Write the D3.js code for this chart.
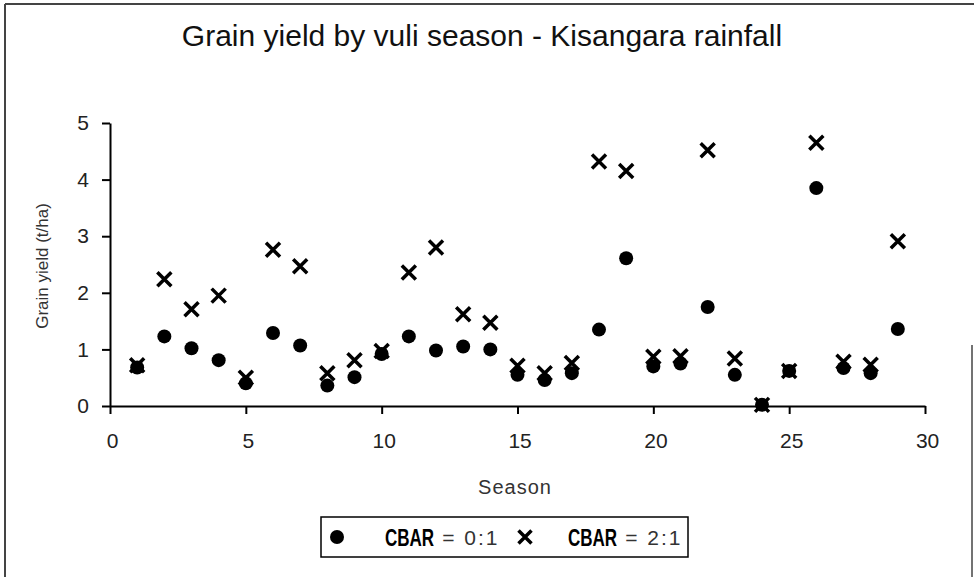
<!DOCTYPE html>
<html lang="en">
  <head>
    <meta charset="UTF-8" />
    <title>Grain yield by vuli season - Kisangara rainfall</title>
    <script src="https://d3js.org/d3.v7.min.js"></script>
    <style>
      body {
        margin: 0;
        background: #fff;
      }
      svg {
        display: block;
        font-family: "Liberation Sans", Arial, sans-serif;
      }
      .axis path,
      .axis line {
        stroke: #000;
        stroke-width: 2px;
      }
    </style>
  </head>
  <body>
    <svg id="chart" width="974" height="577"></svg>

    <script>
      const seasons = [
        1, 2, 3, 4, 5, 6, 7, 8, 9, 10, 11, 12, 13, 14, 15, 16, 17, 18, 19, 20,
        21, 22, 23, 24, 25, 26, 27, 28, 29,
      ];
      // CBAR = 0:1 (circles)
      const yield01 = [
        0.68, 1.23, 1.02, 0.81, 0.4, 1.29, 1.07, 0.36, 0.51, 0.92, 1.23, 0.98,
        1.05, 1.0, 0.55, 0.46, 0.58, 1.35, 2.61, 0.7, 0.75, 1.75, 0.55, 0.02,
        0.62, 3.85, 0.67, 0.58, 1.36,
      ];
      // CBAR = 2:1 (crosses)
      const yield21 = [
        0.72, 2.24, 1.71, 1.95, 0.5, 2.76, 2.47, 0.58, 0.81, 0.97, 2.36, 2.8,
        1.62, 1.47, 0.71, 0.58, 0.76, 4.32, 4.15, 0.87, 0.88, 4.52, 0.84, 0.02,
        0.62, 4.65, 0.78, 0.73, 2.91,
      ];
      const xTicks = [0, 5, 10, 15, 20, 25, 30];
      const yTicks = [0, 1, 2, 3, 4, 5];

      const svg = d3.select("#chart");

      // outer frame
      svg.append("line").attr("x1", 5).attr("y1", 4).attr("x2", 974).attr("y2", 4)
        .attr("stroke", "#444").attr("stroke-width", 2);
      svg.append("line").attr("x1", 5).attr("y1", 4).attr("x2", 5).attr("y2", 577)
        .attr("stroke", "#444").attr("stroke-width", 2);
      svg.append("line").attr("x1", 972).attr("y1", 345).attr("x2", 972).attr("y2", 577)
        .attr("stroke", "#444").attr("stroke-width", 1.5);

      const x = d3.scaleLinear().domain([0, 30]).range([110, 925]);
      const y = d3.scaleLinear().domain([0, 5]).range([406, 123]);

      svg
        .append("g")
        .attr("class", "axis")
        .attr("transform", "translate(0,406)")
        .call(
          d3.axisBottom(x).tickValues(xTicks).tickFormat(d3.format("d"))
            .tickSize(8).tickSizeOuter(0).tickPadding(19)
        )
        .call((g) =>
          g.selectAll("text").attr("font-size", 21).attr("fill", "#222").attr("dx", "0.1em")
        );

      svg
        .append("g")
        .attr("class", "axis")
        .attr("transform", "translate(110,0)")
        .call(
          d3.axisLeft(y).tickValues(yTicks).tickFormat(d3.format("d"))
            .tickSize(8).tickSizeOuter(0).tickPadding(13)
        )
        .call((g) => g.selectAll("text").attr("font-size", 21).attr("fill", "#222"));

      // title and axis labels
      svg
        .append("text")
        .attr("x", 482)
        .attr("y", 46)
        .attr("text-anchor", "middle")
        .style("font-size", "30px")
        .style("fill", "#111")
        .text("Grain yield by vuli season - Kisangara rainfall");

      svg
        .append("text")
        .attr("x", 515)
        .attr("y", 494)
        .attr("text-anchor", "middle")
        .style("font-size", "20px")
        .style("letter-spacing", "1px")
        .style("fill", "#333")
        .text("Season");

      svg
        .append("text")
        .attr("transform", "translate(48,266) rotate(-90)")
        .attr("text-anchor", "middle")
        .style("font-size", "17px")
        .style("fill", "#333")
        .text("Grain yield (t/ha)");

      const crossPath = (s) => `M${-s},${-s}L${s},${s}M${-s},${s}L${s},${-s}`;

      svg
        .append("g")
        .selectAll("circle")
        .data(seasons)
        .join("circle")
        .attr("cx", (d) => x(d))
        .attr("cy", (d, i) => y(yield01[i]))
        .attr("r", 7)
        .attr("fill", "#000");

      svg
        .append("g")
        .selectAll("path")
        .data(seasons)
        .join("path")
        .attr("transform", (d, i) => `translate(${x(d)},${y(yield21[i])})`)
        .attr("d", crossPath(7))
        .attr("stroke", "#000")
        .attr("stroke-width", 3.5)
        .attr("fill", "none");

      // legend
      const legend = svg.append("g");
      legend
        .append("rect")
        .attr("x", 321)
        .attr("y", 517)
        .attr("width", 367)
        .attr("height", 40)
        .attr("fill", "#fff")
        .attr("stroke", "#000")
        .attr("stroke-width", 1.5);

      const items = [
        { label: "= 0:1", mark: "circle", mx: 337, tx: 385 },
        { label: "= 2:1", mark: "cross", mx: 525, tx: 568 },
      ];
      const narrow = 0.74;
      items.forEach((it) => {
        if (it.mark === "circle") {
          legend.append("circle").attr("cx", it.mx).attr("cy", 537).attr("r", 7).attr("fill", "#000");
        } else {
          legend
            .append("path")
            .attr("transform", `translate(${it.mx},537)`)
            .attr("d", crossPath(6.5))
            .attr("stroke", "#000")
            .attr("stroke-width", 3.5);
        }
        // narrow bold "CBAR"
        const cb = legend
          .append("text")
          .attr("transform", `translate(${it.tx},546) scale(${narrow},1)`)
          .style("font-size", "23px")
          .style("font-weight", "bold")
          .style("fill", "#000")
          .text("CBAR");
        const end = it.tx + cb.node().getComputedTextLength() * narrow;
        legend
          .append("text")
          .attr("x", end + 8)
          .attr("y", 545)
          .style("font-size", "21px")
          .style("letter-spacing", "2px")
          .style("fill", "#333")
          .text(it.label);
      });
    </script>
  </body>
</html>
